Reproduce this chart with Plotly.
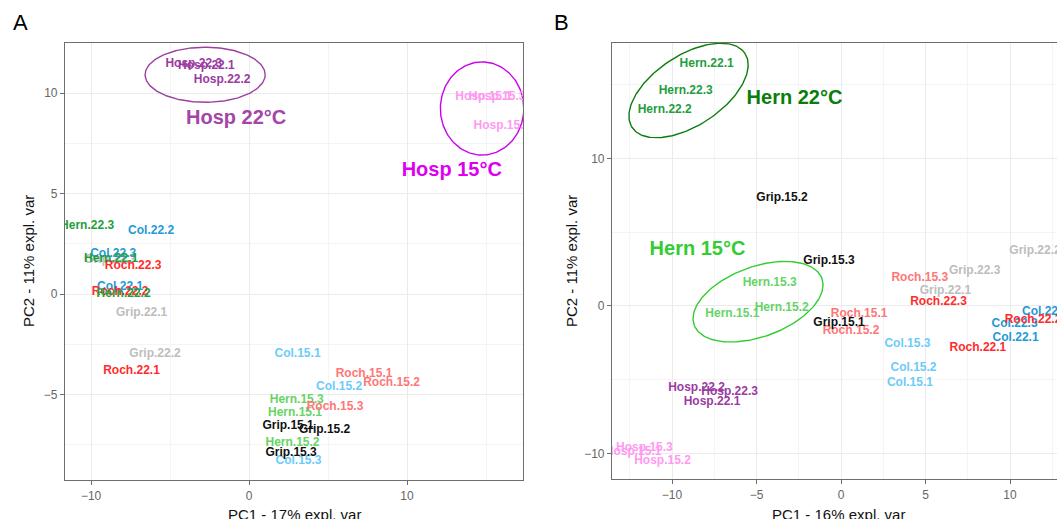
import numpy as np
import plotly.graph_objects as go

W, H = 1057, 519
FONT = "Liberation Sans, Arial, sans-serif"

# ---------------- data: panel A ----------------
samples_A = ["Grip.22.1", "Grip.22.2", "Grip.22.3",
             "Col.22.1", "Col.22.2", "Col.22.3",
             "Roch.22.1", "Roch.22.2", "Roch.22.3",
             "Hern.22.1", "Hern.22.2", "Hern.22.3",
             "Hosp.22.1", "Hosp.22.2", "Hosp.22.3",
             "Col.15.1", "Col.15.2", "Col.15.3",
             "Hern.15.1", "Hern.15.2", "Hern.15.3",
             "Roch.15.1", "Roch.15.2", "Roch.15.3",
             "Grip.15.1", "Grip.15.2", "Grip.15.3",
             "Hosp.15.1", "Hosp.15.2", "Hosp.15.3"]
pc1_A = [-6.8, -5.95, -8.8,
         -8.16, -6.2, -8.6,
         -7.44, -8.16, -7.34,
         -8.73, -7.94, -10.25,
         -2.7, -1.7, -3.5,
         3.07, 5.7, 3.13,
         2.91, 2.75, 3.02,
         7.28, 9.02, 5.44,
         2.47, 4.78, 2.66,
         14.85, 16.0, 15.7]
pc2_A = [-0.95, -2.99, 1.7,
         0.35, 3.13, 1.99,
         -3.83, 0.1, 1.39,
         1.74, 0.0, 3.38,
         11.34, 10.65, 11.44,
         -2.99, -4.63, -8.31,
         -5.9, -7.4, -5.27,
         -3.98, -4.41, -5.61,
         -6.55, -6.77, -7.9,
         9.82, 8.36, 9.82]

# ---------------- data: panel B ----------------
samples_B = samples_A
pc1_B = [6.18, 11.48, 7.91,
         10.33, 12.07, 10.27,
         8.1, 11.36, 5.77,
         -7.95, -10.43, -9.19,
         -7.63, -8.55, -6.59,
         4.08, 4.29, 3.93,
         -6.43, -3.51, -4.22,
         1.07, 0.59, 4.66,
         -0.12, -3.49, -0.71,
         -12.3, -10.56, -11.63]
pc2_B = [1.02, 3.75, 2.37,
         -2.15, -0.39, -1.24,
         -2.83, -0.95, 0.25,
         16.4, 13.29, 14.6,
         -6.49, -5.58, -5.85,
         -5.2, -4.22, -2.58,
         -0.56, -0.11, 1.54,
         -0.56, -1.69, 1.88,
         -1.13, 7.3, 3.07,
         -9.88, -10.49, -9.6]

group_colors = {
    "Grip.22": "#BDBDBD", "Grip.15": "#111111",
    "Col.22": "#1E9AD6", "Col.15": "#6CCBFA",
    "Roch.22": "#FF2B2B", "Roch.15": "#FF7676",
    "Hern.22": "#1E9E3E", "Hern.15": "#66D466",
    "Hosp.22": "#9A3BA3", "Hosp.15": "#FF99F2",
}

# group callouts
callout_A_text = ["Hosp 22°C", "Hosp 15°C"]
callout_A_x = [-0.82, 12.83]
callout_A_y = [8.7, 6.12]
callout_A_color = ["#A445A8", "#DD00F0"]
callout_B_text = ["Hern 22°C", "Hern 15°C"]
callout_B_x = [-2.75, -8.49]
callout_B_y = [14.0, 3.8]
callout_B_color = ["#0B7D0B", "#33CC33"]

# ellipses: center, axis vector u, axis vector v (data units)
ell_A_center = [(-2.78, 10.92), (14.75, 9.24)]
ell_A_u = [(3.8, 0.0), (2.64, 0.0)]
ell_A_v = [(0.0, 1.37), (0.0, 2.32)]
ell_A_color = ["#9B3FA0", "#CC00EE"]
ell_B_center = [(-9.02, 14.61), (-4.91, 0.29)]
ell_B_u = [(3.34, 2.51), (3.78, 1.58)]
ell_B_v = [(1.136, -1.99), (0.71, -2.23)]
ell_B_color = ["#0B7D0B", "#33CC33"]


def group_of(name):
    return name.rsplit(".", 1)[0]


fig = go.Figure()

t = np.linspace(0, 2 * np.pi, 200)


def add_ellipses(centers, us, vs, colors, xa, ya):
    for c, u, v, col in zip(centers, us, vs, colors):
        ex = c[0] + u[0] * np.cos(t) + v[0] * np.sin(t)
        ey = c[1] + u[1] * np.cos(t) + v[1] * np.sin(t)
        fig.add_trace(go.Scatter(x=ex, y=ey, mode="lines", xaxis=xa, yaxis=ya,
                                 line=dict(color=col, width=1.4),
                                 hoverinfo="skip", showlegend=False))


def add_labels(names, xs, ys, xa, ya):
    fig.add_trace(go.Scatter(
        x=xs, y=ys, text=names, mode="text", xaxis=xa, yaxis=ya,
        textposition="middle center", cliponaxis=True,
        textfont=dict(family=FONT, size=12, weight="bold",
                      color=[group_colors[group_of(n)] for n in names]),
        showlegend=False))


add_ellipses(ell_A_center, ell_A_u, ell_A_v, ell_A_color, "x", "y")
add_labels(samples_A, pc1_A, pc2_A, "x", "y")
add_ellipses(ell_B_center, ell_B_u, ell_B_v, ell_B_color, "x2", "y2")
add_labels(samples_B, pc1_B, pc2_B, "x2", "y2")

for txt, x, y, c in zip(callout_A_text, callout_A_x, callout_A_y, callout_A_color):
    fig.add_trace(go.Scatter(x=[x], y=[y], text=[txt], mode="text", xaxis="x", yaxis="y",
                             textfont=dict(family=FONT, size=20, weight="bold", color=c),
                             showlegend=False))
for txt, x, y, c in zip(callout_B_text, callout_B_x, callout_B_y, callout_B_color):
    fig.add_trace(go.Scatter(x=[x], y=[y], text=[txt], mode="text", xaxis="x2", yaxis="y2",
                             textfont=dict(family=FONT, size=20, weight="bold", color=c),
                             showlegend=False))

ax_common = dict(showgrid=True, gridcolor="#EBEBEB", gridwidth=1, zeroline=False,
                 showline=True, linecolor="#6E6E6E", linewidth=1.2,
                 ticks="outside", ticklen=4, tickcolor="#6E6E6E", tickwidth=1,
                 tickfont=dict(family=FONT, size=12, color="#666666"))


def minor(d):
    return dict(dtick=d, tick0=0, showgrid=True, gridcolor="#F4F4F4", gridwidth=1)


def yd(top, bottom):
    return [1 - bottom / H, 1 - top / H]


fig.update_layout(
    width=W, height=H, margin=dict(l=0, r=0, t=0, b=0),
    paper_bgcolor="white", plot_bgcolor="white", showlegend=False,
    xaxis=dict(domain=[65 / W, 523 / W], range=[-11.65, 17.34], dtick=10, tick0=0,
               minor=minor(5), mirror=True, anchor="y", **ax_common),
    yaxis=dict(domain=yd(43, 480), range=[-9.25, 12.5], dtick=5, tick0=0,
               minor=minor(2.5), mirror=True, anchor="x", **ax_common),
    xaxis2=dict(domain=[612 / W, 1.0], range=[-13.55, 12.78], dtick=5, tick0=0,
                minor=minor(2.5), mirror=True, anchor="y2", **ax_common),
    yaxis2=dict(domain=yd(43, 479), range=[-11.73, 17.83], dtick=10, tick0=0,
                minor=minor(5), mirror=False, anchor="x2", **ax_common),
)

ann = []
title_font = dict(family=FONT, size=15, color="#111111")
ann.append(dict(text="PC1 - 17% expl. var", x=294 / W, y=1 - 514 / H, xref="paper", yref="paper",
                showarrow=False, font=title_font, xanchor="center", yanchor="middle"))
ann.append(dict(text="PC2 - 11% expl. var", x=28 / W, y=1 - 261 / H, xref="paper", yref="paper",
                showarrow=False, font=title_font, textangle=-90, xanchor="center", yanchor="middle"))
ann.append(dict(text="PC1 - 16% expl. var", x=838 / W, y=1 - 514 / H, xref="paper", yref="paper",
                showarrow=False, font=title_font, xanchor="center", yanchor="middle"))
ann.append(dict(text="PC2 - 11% expl. var", x=571 / W, y=1 - 261 / H, xref="paper", yref="paper",
                showarrow=False, font=title_font, textangle=-90, xanchor="center", yanchor="middle"))
letter_font = dict(family=FONT, size=22, color="#000000")
ann.append(dict(text="A", x=20 / W, y=1 - 23 / H, xref="paper", yref="paper",
                showarrow=False, font=letter_font, xanchor="center", yanchor="middle"))
ann.append(dict(text="B", x=561 / W, y=1 - 23 / H, xref="paper", yref="paper",
                showarrow=False, font=letter_font, xanchor="center", yanchor="middle"))
fig.update_layout(annotations=ann)

fig.write_html("out.html", config={"displayModeBar": False},
               post_script="document.body.style.margin='0';document.body.style.overflow='hidden';")
